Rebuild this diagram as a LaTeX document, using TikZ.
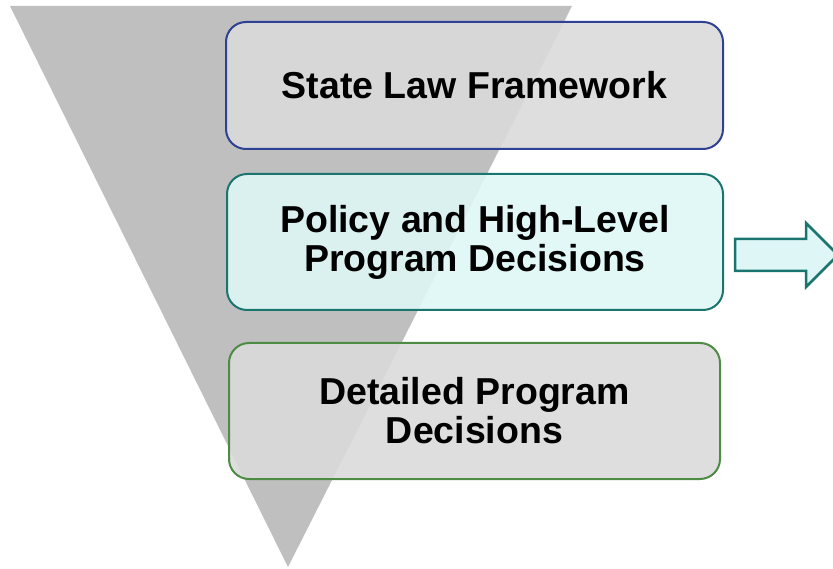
\documentclass[tikz,border=0pt]{standalone}
\usepackage{fontspec}
\setmainfont{Liberation Sans}
\definecolor{trigray}{HTML}{BFBFBF}
\definecolor{boxgray}{HTML}{DADADA}
\definecolor{boxcyan}{HTML}{DEF7F6}
\definecolor{blueedge}{HTML}{2E4192}
\definecolor{tealedge}{HTML}{1B756F}
\definecolor{greenedge}{HTML}{4E8B45}
\tikzset{
  stagebox/.style={rectangle, rounded corners=20pt, line width=2pt, fill opacity=0.9, text opacity=1,
    inner sep=0pt, font=\fontsize{37.5}{39}\selectfont\bfseries, align=center},
}
\begin{document}
\begin{tikzpicture}[x=1pt,y=-1pt]
\useasboundingbox (0,0) rectangle (833,569);
% funnel triangle
\fill[trigray] (10,6) -- (572,6) -- (288,567) -- cycle;
% boxes
\node[stagebox, draw=blueedge, fill=boxgray, minimum width=497pt, minimum height=127pt] (b1) at (474.5,85.5) {State Law Framework};
\node[stagebox, draw=tealedge, fill=boxcyan, minimum width=496pt, minimum height=136pt] (b2) at (475,242) {Policy and High-Level\\Program Decisions};
\node[stagebox, draw=greenedge, fill=boxgray, minimum width=491pt, minimum height=136pt] (b3) at (474.5,411) {Detailed Program\\Decisions};
% arrow
\draw[line width=2.5pt, draw=tealedge, fill=boxcyan, line join=miter]
  (735,239) -- (806,239) -- (806,223) -- (838,255) -- (806,287) -- (806,271) -- (735,271) -- cycle;
\end{tikzpicture}
\end{document}
